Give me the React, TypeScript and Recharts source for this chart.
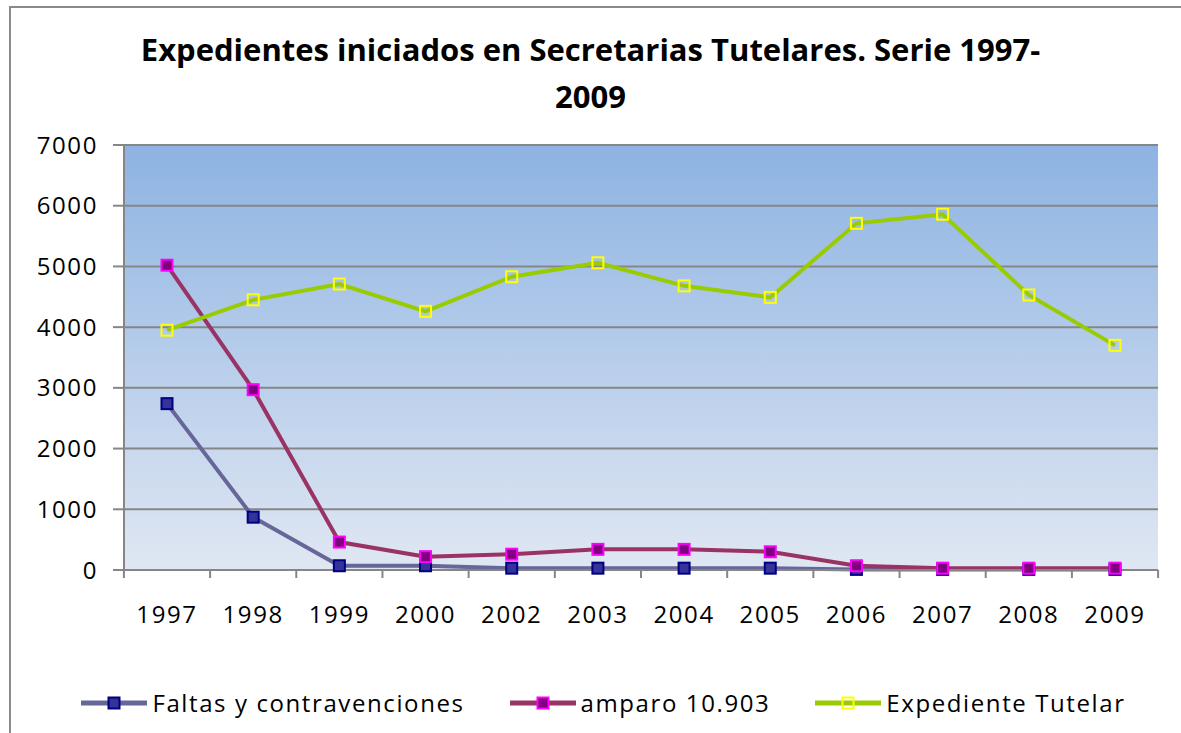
import React from "react";
import { LineChart, Line, XAxis, YAxis, CartesianGrid, Legend } from "recharts";

const categories = ["1997", "1998", "1999", "2000", "2002", "2003", "2004", "2005", "2006", "2007", "2008", "2009"];
const faltas = [2740, 870, 70, 70, 30, 30, 30, 30, 10, 10, 10, 10];
const amparo = [5020, 2970, 460, 220, 260, 340, 340, 300, 70, 30, 30, 30];
const expediente = [3950, 4450, 4710, 4260, 4830, 5060, 4680, 4490, 5710, 5860, 4530, 3700];
const yTicks = [0, 1000, 2000, 3000, 4000, 5000, 6000, 7000];

const data = categories.map((c, i) => ({
  year: c,
  faltas: faltas[i],
  amparo: amparo[i],
  expediente: expediente[i],
}));

const series = [
  { key: "faltas", name: "Faltas y contravenciones", line: "#666699", fill: "#333399", stroke: "#000080" },
  { key: "amparo", name: "amparo 10.903", line: "#993366", fill: "#800080", stroke: "#FF00FF" },
  { key: "expediente", name: "Expediente Tutelar", line: "#99CC00", fill: "none", stroke: "#FFFF00" },
];

const FONT = "'Open Sans', sans-serif";
const AXIS_GRAY = "#868686";
const X_TICK_MARGIN = 36;
const X_TICK_LEN = 8;

const makeDot = (fill: string, stroke: string) => (props: any) => {
  const { cx, cy, index } = props;
  if (cx == null || cy == null) return <g key={`e-${index}`} />;
  return (
    <rect
      key={`d-${index}`}
      x={cx - 5.5}
      y={cy - 5.5}
      width={11}
      height={11}
      fill={fill}
      stroke={stroke}
      strokeWidth={2}
    />
  );
};

// Category tick: label at band centre, tick marks at band boundaries (Excel style)
const CatTick = (props: any) => {
  const { x, y, payload, index, visibleTicksCount, width } = props;
  const half = width / (2 * visibleTicksCount);
  const axisY = y - X_TICK_MARGIN;
  const isLast = index === visibleTicksCount - 1;
  return (
    <g>
      <line x1={x - half} y1={axisY} x2={x - half} y2={axisY + X_TICK_LEN} stroke={AXIS_GRAY} strokeWidth={2} />
      {isLast && (
        <line x1={x + half} y1={axisY} x2={x + half} y2={axisY + X_TICK_LEN} stroke={AXIS_GRAY} strokeWidth={2} />
      )}
      <text
        x={x}
        y={y}
        dy="0.71em"
        textAnchor="middle"
        fill="#000"
        fontFamily={FONT}
        fontSize={24}
        letterSpacing={1.6}
      >
        {payload.value}
      </text>
    </g>
  );
};

const LegendContent = () => (
  <div
    style={{
      display: "flex",
      justifyContent: "center",
      alignItems: "center",
      gap: 45,
      paddingLeft: 26,
      fontFamily: FONT,
      fontSize: 24,
      letterSpacing: 1.6,
      color: "#000",
    }}
  >
    {series.map((s) => (
      <div key={s.key} style={{ display: "flex", alignItems: "center" }}>
        <svg width={66} height={20} style={{ marginRight: 5 }}>
          <line x1={0} y1={10} x2={66} y2={10} stroke={s.line} strokeWidth={5} />
          <rect x={27.5} y={4.5} width={11} height={11} fill={s.fill} stroke={s.stroke} strokeWidth={2} />
        </svg>
        <span>{s.name}</span>
      </div>
    ))}
  </div>
);

export default function App() {
  return (
    <div style={{ position: "absolute", left: 0, top: 0, width: 1181, height: 733, overflow: "hidden", background: "#fff" }}>
      <div
        style={{
          position: "absolute",
          left: 9,
          top: 6,
          width: 1200,
          height: 760,
          border: "2px solid #8a8a8a",
          boxSizing: "border-box",
        }}
      />
      <div
        style={{
          position: "absolute",
          left: 0,
          top: 26,
          width: 1181,
          textAlign: "center",
          fontFamily: FONT,
          fontWeight: 700,
          fontSize: 31,
          lineHeight: "47px",
          color: "#000",
        }}
      >
        <div>Expedientes iniciados en Secretarias Tutelares. Serie 1997-</div>
        <div>2009</div>
      </div>
      <div style={{ position: "absolute", left: 0, top: 0 }}>
        <LineChart width={1181} height={733} data={data} margin={{ top: 145, right: 23, bottom: 40, left: 0 }}>
          <defs>
            <linearGradient id="bgGrad" x1="0" y1="0" x2="0" y2="1">
              <stop offset="0%" stopColor="#8DB3E2" />
              <stop offset="100%" stopColor="#E0E7F3" />
            </linearGradient>
          </defs>
          <CartesianGrid vertical={false} stroke={AXIS_GRAY} strokeWidth={2} fill="url(#bgGrad)" fillOpacity={1} />
          <XAxis
            dataKey="year"
            padding={{ left: 43, right: 43 }}
            height={93}
            axisLine={{ stroke: AXIS_GRAY, strokeWidth: 2 }}
            tickLine={false}
            tickSize={0}
            tickMargin={X_TICK_MARGIN}
            interval={0}
            tick={<CatTick />}
          />
          <YAxis
            domain={[0, 7000]}
            ticks={yTicks}
            width={124}
            tickSize={11}
            tickMargin={15}
            stroke={AXIS_GRAY}
            strokeWidth={2}
            tick={{ fill: "#000", fontFamily: FONT, fontSize: 24, letterSpacing: 1.6 }}
          />
          {series.map((s) => (
            <Line
              key={s.key}
              type="linear"
              dataKey={s.key}
              name={s.name}
              stroke={s.line}
              strokeWidth={4}
              dot={makeDot(s.fill, s.stroke)}
              activeDot={false}
              isAnimationActive={false}
            />
          ))}
          <Legend
            verticalAlign="bottom"
            height={30}
            content={<LegendContent />}
            wrapperStyle={{ position: "absolute", left: 0, top: 686, bottom: "auto", width: 1181, height: 30 }}
          />
        </LineChart>
      </div>
    </div>
  );
}
